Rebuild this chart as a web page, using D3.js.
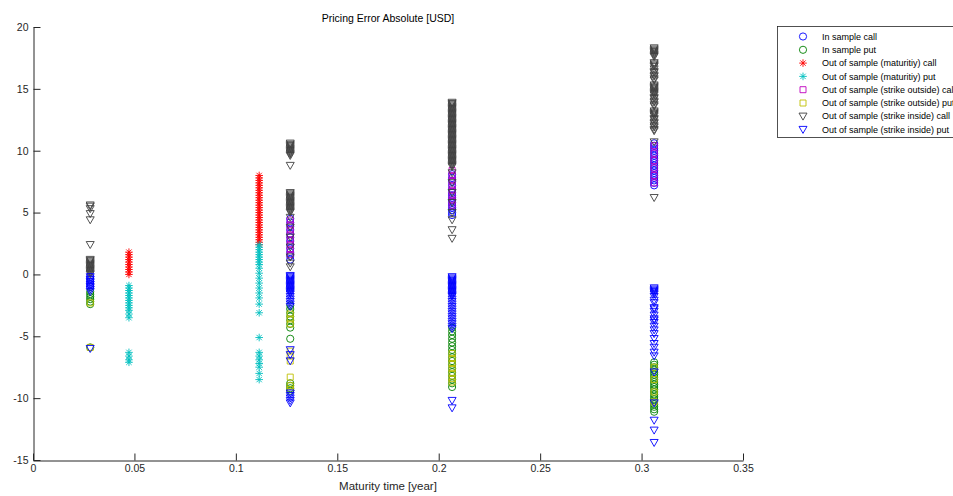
<!DOCTYPE html>
<html>
<head>
<meta charset="utf-8">
<script src="https://cdn.jsdelivr.net/npm/d3@7"></script>
<style>
  body { margin: 0; background: #fff; }
  svg { display: block; }
  text { font-family: "Liberation Sans", Arial, sans-serif; }
</style>
</head>
<body>
<svg id="chart" width="953" height="496"></svg>
<script>
// maturities (years) at which the errors were computed
var tA = 0.0282, tB = 0.0473, tC = 0.1115, tD = 0.1268, tE = 0.2066, tF = 0.3062;

var xTicks = [0, 0.05, 0.1, 0.15, 0.2, 0.25, 0.3, 0.35];
var xTickLabels = ["0", "0.05", "0.1", "0.15", "0.2", "0.25", "0.3", "0.35"];
var yTicks = [-15, -10, -5, 0, 5, 10, 15, 20];
var yTickLabels = ["-15", "-10", "-5", "0", "5", "10", "15", "20"];

var seriesNames = [
  "In sample call",
  "In sample put",
  "Out of sample (maturitiy) call",
  "Out of sample (maturitiy) put",
  "Out of sample (strike outside) call",
  "Out of sample (strike outside) put",
  "Out of sample (strike inside) call",
  "Out of sample (strike inside) put"
];

// pricing errors per series: [maturity, [errors]]
var inSampleCall = [
  [tA, [-0.2, -0.4, -0.6, -0.8, -1.0]],
  [tD, [1.2, 1.5, 1.8, 2.1, 2.4, 2.7, 3.0, 3.3, 3.6, 3.9, 4.2, 4.5]],
  [tE, [4.8, 5.0, 5.2, 5.4, 5.6, 5.8, 6.0, 6.2, 6.4, 6.6, 6.9, 7.2, 7.5, 7.8, 8.1]],
  [tF, [7.2, 7.4, 7.6, 7.8, 8.0, 8.2, 8.4, 8.6, 8.8, 9.0, 9.2, 9.4, 9.6, 9.8, 10.0, 10.2, 10.4, 10.6]]
];
var inSamplePut = [
  [tA, [-1.4, -1.6, -1.8, -2.0, -2.2, -2.4, -5.9]],
  [tD, [-2.5, -2.8, -3.1, -3.4, -3.7, -4.0, -4.3, -5.2, -8.8, -9.0, -9.2, -9.4]],
  [tE, [-4.3, -4.6, -4.9, -5.2, -5.5, -5.8, -6.1, -6.4, -6.7, -7.0, -7.3, -7.6, -7.9, -8.2, -8.5, -8.8, -9.1]],
  [tF, [-7.1, -7.3, -7.5, -7.7, -7.9, -8.1, -8.3, -8.5, -8.7, -8.9, -9.1, -9.3, -9.5, -9.7,
        -9.9, -10.1, -10.3, -10.5, -10.7, -10.9, -11.1]]
];
var oosMatCall = [
  [tB, [0.0, 0.2, 0.4, 0.6, 0.8, 1.0, 1.2, 1.4, 1.6, 1.8]],
  [tC, [2.4, 2.6, 2.8, 3.0, 3.2, 3.4, 3.6, 3.8, 4.0, 4.2, 4.4, 4.6, 4.8, 5.0, 5.2,
        5.4, 5.6, 5.8, 6.0, 6.2, 6.4, 6.6, 6.8, 7.0, 7.2, 7.4, 7.6, 7.8, 8.0]]
];
var oosMatPut = [
  [tB, [-0.9, -1.1, -1.3, -1.5, -1.7, -1.9, -2.1, -2.3, -2.5, -2.7, -2.9, -3.2, -3.5, -6.3, -6.6, -6.9, -7.1]],
  [tC, [2.4, 2.2, 2.0, 1.8, 1.6, 1.4, 1.2, 1.0, 0.8, 0.5, 0.1, -0.3, -0.7, -1.1, -1.5, -1.9,
        -2.4, -3.1, -5.1, -6.3, -6.6, -6.9, -7.2, -7.5, -8.0, -8.5]]
];
var oosOutCall = [
  [tD, [1.6, 2.0, 2.4, 2.8, 3.2, 3.6, 4.0, 4.4]],
  [tE, [5.6, 6.0, 6.4, 6.8, 7.2, 7.6, 8.0, 8.4]],
  [tF, [7.4, 8.0, 8.6, 9.2, 9.8, 10.4]]
];
var oosOutPut = [
  [tA, [-2.3, -5.9]],
  [tD, [-3.2, -3.6, -4.0, -6.2, -6.6, -7.0, -8.3, -9.0, -9.3]],
  [tE, [-6.4, -6.8, -7.2, -7.6, -8.0, -8.4, -8.7]],
  [tF, [-7.5, -8.5, -9.5, -10.3]]
];
var oosInCall = [
  [tA, [5.6, 5.5, 5.3, 4.9, 4.4, 2.4, 1.2, 1.1, 1.0, 0.9, 0.8, 0.7, 0.6, 0.5, 0.4, 0.3, 0.2, 0.1, 0.0]],
  [tD, [10.6, 10.5, 10.4, 10.3, 10.2, 10.1, 10.0, 9.9, 9.8, 9.7, 9.6, 8.8,
        6.6, 6.5, 6.4, 6.3, 6.2, 6.1, 6.0, 5.9, 5.8, 5.7, 5.6, 5.5, 5.4, 5.3, 5.2, 5.1, 5.0,
        4.6, 3.8, 3.0, 2.2, 1.4, 0.9, 0.6]],
  [tE, [13.9, 13.8, 13.7, 13.6, 13.5, 13.4, 13.3, 13.2, 13.1, 13.0, 12.9, 12.8, 12.7, 12.6,
        12.5, 12.4, 12.3, 12.2, 12.1, 12.0, 11.9, 11.8, 11.7, 11.6, 11.5, 11.4, 11.3, 11.2,
        11.1, 11.0, 10.9, 10.8, 10.7, 10.6, 10.5, 10.4, 10.3, 10.2, 10.1, 10.0, 9.9, 9.8,
        9.7, 9.6, 9.5, 9.4, 9.3, 9.2, 9.1, 9.0, 8.9, 8.8, 8.7,
        8.2, 7.4, 6.6, 5.8, 5.0, 4.4, 3.6, 2.9]],
  [tF, [18.3, 18.2, 18.1, 18.0, 17.9, 17.8, 17.7, 17.6, 17.1, 17.0, 16.9, 16.8, 16.6, 16.4,
        16.3, 16.1, 16.0, 15.8, 15.7, 15.3, 15.2, 15.1, 15.0, 14.9, 14.8, 14.7, 14.6, 14.5,
        14.3, 14.2, 14.0, 13.9, 13.7, 13.6, 13.2, 13.1, 13.0, 12.9, 12.8, 12.6, 12.5, 12.3,
        12.2, 12.0, 11.9, 11.7, 11.6, 10.7, 6.2]]
];
var oosInPut = [
  [tA, [-0.2, -0.4, -0.6, -0.8, -1.0, -1.2, -1.4, -6.0]],
  [tD, [-0.1, -0.2, -0.3, -0.4, -0.5, -0.6, -0.7, -0.8, -0.9, -1.0, -1.1, -1.2, -1.3, -1.4,
        -1.5, -1.6, -1.8, -2.0, -2.2, -2.4, -2.6, -6.1, -6.5, -7.0, -9.6, -9.8, -10.0, -10.2, -10.4]],
  [tE, [-0.2, -0.3, -0.4, -0.5, -0.6, -0.7, -0.8, -0.9, -1.0, -1.1, -1.2, -1.3, -1.4, -1.5,
        -1.6, -1.7, -1.8, -2.0, -2.2, -2.4, -2.6, -2.8, -3.0, -3.2, -3.4, -3.6, -3.8, -4.0,
        -4.2, -4.4, -10.2, -10.8]],
  [tF, [-1.1, -1.2, -1.3, -1.4, -1.5, -1.6, -1.8, -2.1, -2.3, -2.7, -2.8, -3.0, -3.3, -3.6,
        -3.7, -3.9, -4.2, -4.5, -4.8, -5.2, -5.6, -5.9, -6.3, -6.6, -7.9, -10.4, -11.8,
        -12.6, -13.6]]
];

//custom marker shapes (size = half width in px)
var asterisk = {
  draw: function(ctx, r) {
    var d = r * Math.SQRT1_2;
    ctx.moveTo(-r, 0); ctx.lineTo(r, 0);
    ctx.moveTo(0, -r); ctx.lineTo(0, r);
    ctx.moveTo(-d, -d); ctx.lineTo(d, d);
    ctx.moveTo(-d, d); ctx.lineTo(d, -d);
  }
};
var triangleDown = {
  draw: function(ctx, r) {
    ctx.moveTo(-r, -r * 0.8);
    ctx.lineTo(r, -r * 0.8);
    ctx.lineTo(0, r * 0.95);
    ctx.closePath();
  }
};
var circle = {
  draw: function(ctx, r) {
    ctx.moveTo(r, 0);
    ctx.arc(0, 0, r, 0, 2 * Math.PI);
  }
};
var square = {
  draw: function(ctx, r) {
    ctx.rect(-r, -r, 2 * r, 2 * r);
  }
};

var series = [
  {data: inSampleCall, color: "#0000ff", type: circle, size: 3.6},
  {data: inSamplePut, color: "#008000", type: circle, size: 3.6},
  {data: oosMatCall, color: "#ff0000", type: asterisk, size: 3.8},
  {data: oosMatPut, color: "#00bfbf", type: asterisk, size: 3.8},
  {data: oosOutCall, color: "#bf00bf", type: square, size: 3},
  {data: oosOutPut, color: "#bfbf00", type: square, size: 3},
  {data: oosInCall, color: "#404040", type: triangleDown, size: 4},
  {data: oosInPut, color: "#0000ff", type: triangleDown, size: 4}
];

var margin = {left: 33, top: 27, right: 743, bottom: 460};

var svg = d3.select("#chart");

var x = d3.scaleLinear().domain([0, 0.35]).range([margin.left, margin.right]);
var y = d3.scaleLinear().domain([-15, 20]).range([margin.bottom, margin.top]);

//markers
series.forEach(function(s, i) {
  var pts = [];
  s.data.forEach(function(g) {
    g[1].forEach(function(v) { pts.push({t: g[0], v: v}); });
  });

  svg.append("g")
    .attr("class", "series" + i)
    .selectAll("path")
      .data(pts)
      .enter()
      .append("path")
        .attr("transform", function(d) {
          return "translate(" + x(d.t) + "," + y(d.v) + ")";
        })
        .attr("d", d3.symbol().type(s.type).size(s.size))
        .attr("fill", "none")
        .attr("stroke", s.color)
        .attr("stroke-width", 0.9);
});

//axes, ticks pointing inward like matlab
var xAxis = svg.append("g")
  .attr("transform", "translate(0," + (margin.bottom + 0.5) + ")")
  .call(d3.axisBottom(x)
    .tickValues(xTicks)
    .tickFormat(function(d, i) { return xTickLabels[i]; })
    .tickSizeInner(-7)
    .tickSizeOuter(0)
    .tickPadding(4));

var yAxis = svg.append("g")
  .attr("transform", "translate(" + (margin.left + 0.5) + ",0)")
  .call(d3.axisLeft(y)
    .tickValues(yTicks)
    .tickFormat(function(d, i) { return yTickLabels[i]; })
    .tickSizeInner(-7)
    .tickSizeOuter(0)
    .tickPadding(5));

[xAxis, yAxis].forEach(function(a) {
  a.select(".domain").attr("stroke", "#262626");
  a.selectAll(".tick line").attr("stroke", "#262626");
  a.selectAll(".tick text")
    .attr("fill", "#262626")
    .style("font-size", "10.5px")
    .style("font-family", "'Liberation Sans', Arial, sans-serif");
});

//title and axis label
svg.append("text")
  .attr("x", (margin.left + margin.right) / 2)
  .attr("y", 22)
  .attr("text-anchor", "middle")
  .attr("fill", "#000")
  .style("font-size", "10.5px")
  .text("Pricing Error Absolute [USD]");

svg.append("text")
  .attr("x", (margin.left + margin.right) / 2)
  .attr("y", 490)
  .attr("text-anchor", "middle")
  .attr("fill", "#262626")
  .style("font-size", "11.5px")
  .text("Maturity time [year]");

//legend (clipped at the right edge, as in the original figure)
var legend = svg.append("g");

legend.append("rect")
  .attr("x", 777.5)
  .attr("y", 26.5)
  .attr("width", 200)
  .attr("height", 111)
  .attr("fill", "#fff")
  .attr("stroke", "#262626")
  .attr("stroke-width", 0.8);

var rows = legend.selectAll("g.row")
  .data(series)
  .enter()
  .append("g")
    .attr("class", "row")
    .attr("transform", function(d, i) {
      return "translate(0," + (36.5 + i * 13.3) + ")";
    });

rows.append("path")
  .attr("transform", "translate(803,0)")
  .attr("d", function(d) { return d3.symbol().type(d.type).size(d.size)(); })
  .attr("fill", "none")
  .attr("stroke", function(d) { return d.color; })
  .attr("stroke-width", 0.9);

rows.append("text")
  .attr("x", 822)
  .attr("y", 0)
  .attr("dy", "0.35em")
  .attr("fill", "#000")
  .style("font-size", "9px")
  .text(function(d, i) { return seriesNames[i]; });
</script>
</body>
</html>
